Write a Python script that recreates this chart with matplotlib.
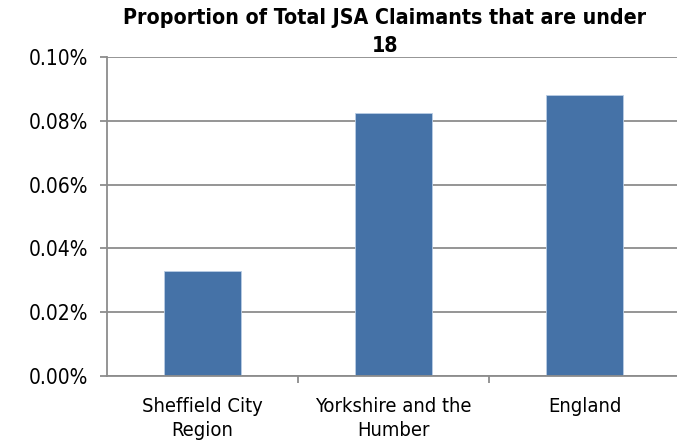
import matplotlib
matplotlib.use("Agg")
import matplotlib.pyplot as plt
from matplotlib.ticker import FuncFormatter

categories = ["Sheffield City\nRegion", "Yorkshire and the\nHumber", "England"]
values = [0.0328, 0.0825, 0.0881]  # percent
yticks = [0.00, 0.02, 0.04, 0.06, 0.08, 0.10]

plt.rcParams['font.family'] = ['DejaVu Sans']
plt.rcParams['font.stretch'] = 'condensed'

W, H = 677, 445
fig = plt.figure(figsize=(W/100, H/100), dpi=100)
left, base, top = 107, 376, 57
catw = 191
ax = fig.add_axes([left/W, 1-base/H, 3*catw/W, (base-top)/H])

x = list(range(len(categories)))
ax.bar(x, values, width=0.4, color='#4572A7', edgecolor='#B9CDE5', linewidth=0.6, zorder=3)
ax.set_xlim(-0.5, 2.5)
ax.set_ylim(0, 0.10)
ax.set_yticks(yticks)
ax.yaxis.set_major_formatter(FuncFormatter(lambda v, p: f"{v:.2f}%"))
ax.grid(axis='y', color='#8C8C8C', linewidth=1.3, zorder=0)
ax.set_xticks(x)
ax.set_xticklabels(categories, fontsize=14.5, linespacing=1.36)
ax.set_xticks([0.5, 1.5, 2.5], minor=True)
ax.tick_params(axis='x', which='major', length=0, pad=15)
ax.tick_params(axis='x', which='minor', length=5, color='#8C8C8C', width=1.3)
ax.tick_params(axis='y', labelsize=15, length=5, color='#8C8C8C', width=1.3, pad=8.5)
for s in ['top', 'right']:
    ax.spines[s].set_visible(False)
for s in ['left', 'bottom']:
    ax.spines[s].set_color('#8C8C8C')
    ax.spines[s].set_linewidth(1.3)
ax.spines['bottom'].set_zorder(4)

fig.text(385/W, 1-32/H, "Proportion of Total JSA Claimants that are under\n18",
         ha='center', va='center', fontsize=15.3, fontweight='bold', linespacing=1.45)

fig.savefig("out.png", dpi=100)
